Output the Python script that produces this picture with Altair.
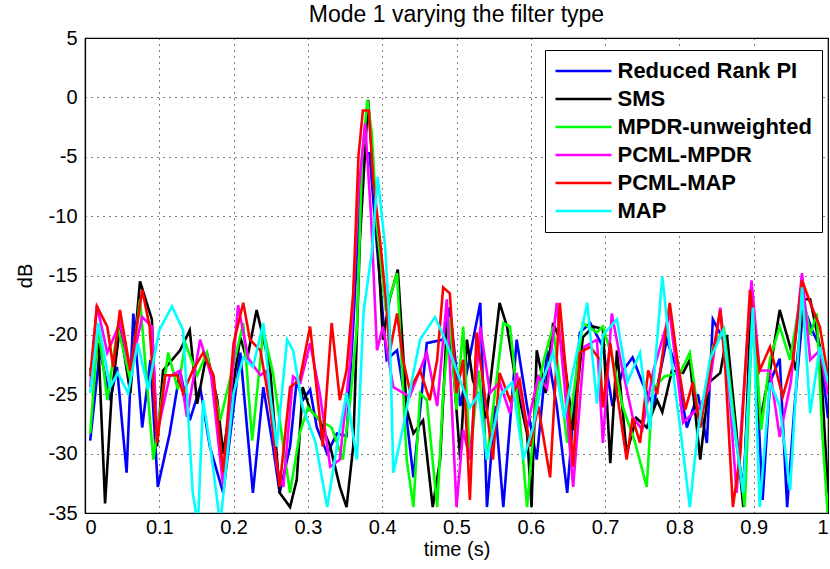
import altair as alt
import pandas as pd

TITLE = "Mode 1 varying the filter type"
SERIES_NAMES = ["Reduced Rank PI", "SMS", "MPDR-unweighted", "PCML-MPDR", "PCML-MAP", "MAP"]
SERIES_COLORS = ["#0000ff", "#000000", "#00ff00", "#ff00ff", "#ff0000", "#00ffff"]
X_TICKS = [0, 0.1, 0.2, 0.3, 0.4, 0.5, 0.6, 0.7, 0.8, 0.9, 1]
Y_TICKS = [5, 0, -5, -10, -15, -20, -25, -30, -35]

REDUCED_RANK_PI = [
    (0.007, -28.9), (0.02, -21.3), (0.034, -25.5), (0.043, -22.7), (0.056, -31.6), (0.065, -18.2),
    (0.077, -27.8), (0.088, -22.1), (0.098, -32.8), (0.114, -28.3), (0.128, -23.0), (0.141, -27.2),
    (0.155, -24.4), (0.168, -29.4), (0.186, -33.3), (0.209, -21.5), (0.226, -33.3), (0.24, -24.4),
    (0.253, -29.4), (0.262, -33.3), (0.276, -29.4), (0.285, -23.8), (0.293, -25.5), (0.303, -24.6),
    (0.312, -27.8), (0.326, -30.0), (0.339, -28.3), (0.352, -28.5), (0.361, -19.3), (0.37, -8.0),
    (0.377, -4.7), (0.383, -4.7), (0.393, -12.6), (0.406, -22.1), (0.42, -21.3), (0.428, -24.4),
    (0.442, -32.0), (0.46, -20.7), (0.482, -20.4), (0.491, -17.7), (0.505, -26.0), (0.532, -17.3),
    (0.541, -34.5), (0.552, -26.0), (0.563, -34.5), (0.581, -20.4), (0.595, -26.0), (0.608, -30.5),
    (0.622, -21.3), (0.635, -26.0), (0.649, -33.3), (0.666, -19.8), (0.68, -19.0), (0.697, -21.0),
    (0.71, -26.0), (0.724, -23.0), (0.737, -21.9), (0.75, -24.0), (0.765, -26.0), (0.783, -20.4),
    (0.797, -23.0), (0.81, -27.8), (0.825, -25.0), (0.837, -29.1), (0.845, -18.7), (0.86, -20.5),
    (0.872, -27.0), (0.886, -33.0), (0.899, -17.5), (0.912, -33.9), (0.922, -24.0), (0.935, -22.0),
    (0.945, -34.5), (0.955, -26.0), (0.967, -17.5), (0.978, -19.5), (0.989, -21.0), (1.0, -27.0),
]

SMS = [
    (0.007, -23.0), (0.018, -20.7), (0.027, -34.2), (0.036, -24.9), (0.047, -19.3), (0.061, -24.9),
    (0.074, -15.5), (0.09, -18.7), (0.097, -29.4), (0.105, -23.0), (0.128, -21.3), (0.141, -19.6),
    (0.151, -25.8), (0.164, -21.5), (0.178, -25.5), (0.186, -30.0), (0.209, -20.2), (0.218, -22.1),
    (0.231, -17.9), (0.249, -22.7), (0.262, -33.3), (0.276, -34.5), (0.285, -32.2), (0.293, -24.4),
    (0.303, -26.3), (0.316, -27.2), (0.33, -29.4), (0.343, -32.8), (0.352, -34.5), (0.361, -29.4),
    (0.37, -12.0), (0.381, -0.2), (0.392, -10.0), (0.401, -20.4), (0.41, -17.0), (0.421, -14.5),
    (0.433, -26.3), (0.442, -28.3), (0.455, -27.2), (0.468, -34.5), (0.478, -30.5), (0.487, -19.3),
    (0.495, -22.1), (0.505, -30.5), (0.514, -20.4), (0.522, -23.8), (0.54, -27.0), (0.558, -17.3),
    (0.568, -19.3), (0.58, -24.0), (0.595, -28.3), (0.601, -34.5), (0.608, -21.3), (0.62, -24.9),
    (0.63, -19.0), (0.643, -21.0), (0.657, -28.0), (0.67, -20.2), (0.684, -19.3), (0.697, -19.5),
    (0.707, -30.8), (0.716, -21.3), (0.729, -30.0), (0.742, -27.0), (0.756, -27.8), (0.77, -25.5),
    (0.777, -26.5), (0.79, -23.0), (0.805, -23.2), (0.814, -22.1), (0.828, -30.5), (0.84, -24.0),
    (0.855, -23.2), (0.864, -20.0), (0.875, -27.0), (0.886, -34.5), (0.897, -16.0), (0.908, -27.4),
    (0.922, -23.0), (0.935, -17.9), (0.949, -21.0), (0.957, -23.0), (0.967, -17.0), (0.976, -17.0),
    (0.989, -21.0), (1.0, -33.3),
]

MPDR_UNWEIGHTED = [
    (0.007, -28.3), (0.018, -19.3), (0.03, -25.5), (0.044, -19.3), (0.061, -23.8), (0.074, -17.0),
    (0.092, -30.5), (0.112, -21.5), (0.125, -24.6), (0.135, -20.7), (0.151, -23.4), (0.164, -21.5),
    (0.182, -27.2), (0.198, -23.0), (0.213, -19.0), (0.225, -28.9), (0.24, -19.6), (0.253, -23.2),
    (0.267, -29.4), (0.276, -33.3), (0.289, -28.3), (0.3, -26.1), (0.316, -27.2), (0.332, -27.8),
    (0.347, -30.5), (0.357, -25.5), (0.366, -19.3), (0.373, -5.0), (0.38, -0.2), (0.386, -3.0),
    (0.393, -10.9), (0.405, -18.0), (0.42, -14.8), (0.433, -30.5), (0.442, -34.5), (0.451, -24.9),
    (0.46, -25.5), (0.474, -34.5), (0.482, -25.0), (0.491, -18.7), (0.5, -26.3), (0.509, -19.3),
    (0.518, -30.5), (0.53, -23.0), (0.541, -30.5), (0.563, -19.0), (0.572, -19.3), (0.585, -27.0),
    (0.595, -34.5), (0.608, -24.9), (0.618, -22.0), (0.63, -19.3), (0.649, -29.1), (0.67, -19.0),
    (0.689, -19.8), (0.697, -19.3), (0.71, -22.0), (0.724, -26.1), (0.74, -29.0), (0.756, -32.8),
    (0.764, -24.6), (0.78, -23.5), (0.801, -23.2), (0.814, -21.5), (0.828, -27.8), (0.845, -21.0),
    (0.86, -19.5), (0.875, -28.0), (0.888, -34.5), (0.899, -17.0), (0.91, -28.0), (0.922, -22.0),
    (0.935, -19.3), (0.949, -22.1), (0.965, -16.0), (0.976, -20.0), (0.985, -18.2), (0.992, -28.0),
    (1.0, -35.5),
]

PCML_MPDR = [
    (0.007, -24.4), (0.016, -17.5), (0.03, -21.5), (0.047, -19.0), (0.061, -23.0), (0.077, -18.5),
    (0.09, -19.3), (0.097, -28.3), (0.114, -23.5), (0.128, -23.0), (0.137, -26.9), (0.155, -20.4),
    (0.17, -23.5), (0.186, -32.8), (0.206, -17.5), (0.22, -22.0), (0.236, -23.4), (0.245, -23.0),
    (0.258, -31.1), (0.267, -32.8), (0.28, -23.5), (0.29, -24.0), (0.303, -20.7), (0.316, -24.9),
    (0.33, -31.1), (0.343, -30.5), (0.357, -22.1), (0.368, -8.0), (0.377, -2.2), (0.385, -10.0),
    (0.393, -21.3), (0.401, -19.3), (0.415, -24.4), (0.437, -25.2), (0.46, -21.5), (0.474, -26.0),
    (0.487, -17.0), (0.5, -34.5), (0.509, -28.0), (0.518, -30.5), (0.532, -19.3), (0.545, -24.9),
    (0.558, -24.0), (0.572, -26.6), (0.581, -23.2), (0.595, -27.8), (0.61, -23.5), (0.622, -24.5),
    (0.635, -17.3), (0.645, -24.0), (0.657, -32.8), (0.672, -21.0), (0.689, -20.4), (0.697, -29.1),
    (0.709, -18.2), (0.722, -22.5), (0.737, -26.9), (0.75, -28.0), (0.765, -23.0), (0.787, -18.2),
    (0.805, -27.4), (0.828, -26.0), (0.84, -24.5), (0.855, -17.7), (0.866, -24.0), (0.877, -33.3),
    (0.897, -15.4), (0.908, -23.0), (0.922, -23.0), (0.935, -28.6), (0.95, -24.0), (0.965, -14.8),
    (0.976, -22.1), (0.989, -21.3), (1.0, -25.0),
]

PCML_MAP = [
    (0.007, -23.5), (0.016, -17.6), (0.03, -19.3), (0.038, -22.7), (0.047, -17.9), (0.061, -23.0),
    (0.077, -16.2), (0.087, -19.3), (0.097, -29.1), (0.108, -23.4), (0.124, -23.4), (0.132, -24.9),
    (0.145, -23.0), (0.159, -21.5), (0.173, -23.4), (0.186, -31.6), (0.2, -20.7), (0.213, -17.3),
    (0.222, -20.4), (0.236, -21.3), (0.249, -26.0), (0.262, -32.8), (0.276, -24.4), (0.289, -23.8),
    (0.303, -19.3), (0.32, -29.4), (0.332, -19.0), (0.343, -25.5), (0.352, -23.0), (0.361, -16.5),
    (0.368, -5.0), (0.374, -1.1), (0.382, -1.1), (0.388, -7.0), (0.397, -12.0), (0.405, -17.0),
    (0.41, -21.5), (0.42, -18.2), (0.428, -22.1), (0.437, -24.6), (0.451, -23.0), (0.464, -25.5),
    (0.474, -22.1), (0.482, -16.0), (0.491, -16.5), (0.5, -24.9), (0.509, -22.1), (0.518, -33.9),
    (0.527, -19.8), (0.538, -25.0), (0.549, -30.5), (0.558, -23.2), (0.572, -25.5), (0.585, -23.8),
    (0.599, -29.4), (0.61, -26.0), (0.626, -32.0), (0.639, -17.3), (0.649, -24.4), (0.657, -31.1),
    (0.666, -21.5), (0.68, -21.0), (0.693, -22.1), (0.697, -26.1), (0.707, -20.7), (0.716, -24.9),
    (0.729, -30.5), (0.737, -27.0), (0.747, -29.1), (0.758, -23.0), (0.77, -25.0), (0.787, -17.3),
    (0.797, -22.0), (0.808, -26.3), (0.818, -24.0), (0.828, -27.8), (0.855, -17.9), (0.862, -23.0),
    (0.872, -34.5), (0.882, -30.0), (0.895, -16.2), (0.908, -23.0), (0.922, -21.0), (0.939, -25.2),
    (0.953, -22.1), (0.965, -15.4), (0.976, -17.3), (0.989, -19.3), (1.0, -23.5),
]

MAP = [
    (0.007, -24.9), (0.018, -19.0), (0.034, -24.4), (0.044, -23.2), (0.058, -24.9), (0.071, -20.7),
    (0.085, -24.6), (0.1, -19.6), (0.117, -17.6), (0.132, -19.6), (0.145, -33.3), (0.152, -36.0),
    (0.159, -25.5), (0.17, -30.0), (0.182, -36.0), (0.2, -24.9), (0.213, -21.9), (0.226, -22.7),
    (0.24, -19.0), (0.249, -24.9), (0.258, -29.4), (0.272, -20.4), (0.28, -21.3), (0.293, -26.1),
    (0.31, -29.0), (0.326, -34.5), (0.339, -29.4), (0.352, -24.9), (0.366, -30.5), (0.375, -18.0),
    (0.386, -13.1), (0.394, -6.7), (0.404, -12.6), (0.41, -19.3), (0.415, -31.6), (0.428, -27.8),
    (0.442, -23.2), (0.451, -20.4), (0.471, -18.5), (0.482, -20.0), (0.495, -22.1), (0.518, -26.1),
    (0.53, -25.0), (0.541, -30.5), (0.56, -25.0), (0.575, -24.0), (0.59, -30.5), (0.603, -27.8),
    (0.615, -24.0), (0.63, -21.5), (0.645, -27.0), (0.657, -23.0), (0.676, -17.3), (0.689, -25.8),
    (0.697, -20.0), (0.716, -18.7), (0.73, -24.0), (0.747, -21.5), (0.76, -28.0), (0.777, -15.1),
    (0.787, -21.0), (0.801, -27.8), (0.814, -34.5), (0.825, -28.0), (0.841, -22.1), (0.859, -19.6),
    (0.872, -27.0), (0.886, -33.3), (0.899, -17.7), (0.908, -34.5), (0.922, -24.0), (0.935, -26.0),
    (0.949, -33.1), (0.965, -16.0), (0.976, -26.6), (0.989, -21.0), (1.0, -24.0),
]

SERIES_DATA = [REDUCED_RANK_PI, SMS, MPDR_UNWEIGHTED, PCML_MPDR, PCML_MAP, MAP]

rows = []
for name, pts in zip(SERIES_NAMES, SERIES_DATA):
    for i, (t, v) in enumerate(pts):
        rows.append({"series": name, "t": t, "dB": v, "i": i})
df = pd.DataFrame(rows)

FONT = "Liberation Sans"

axis_common = dict(
    labelFont=FONT, titleFont=FONT, labelFontSize=20, titleFontSize=20,
    labelColor="black", titleColor="black", titleFontWeight="normal",
    labelFontWeight="normal", domainColor="black", domainWidth=1.2, ticks=False,
    gridColor="black", gridDash=[1, 5], gridOpacity=1, gridWidth=1,
)

chart = alt.Chart(df).mark_line(strokeWidth=2.6, clip=True).encode(
    x=alt.X("t:Q",
            scale=alt.Scale(domain=[0, 1], nice=False, zero=False),
            axis=alt.Axis(values=X_TICKS, title="time (s)", format="~g",
                          labelPadding=4, titlePadding=2, **axis_common)),
    y=alt.Y("dB:Q",
            scale=alt.Scale(domain=[-35, 5], nice=False, zero=False),
            axis=alt.Axis(values=Y_TICKS, title="dB",
                          labelExpr="datum.value < 0 ? '-' + abs(datum.value) : '' + datum.value",
                          labelPadding=8, titlePadding=13, **axis_common)),
    color=alt.Color("series:N",
                    scale=alt.Scale(domain=SERIES_NAMES, range=SERIES_COLORS),
                    sort=SERIES_NAMES,
                    legend=alt.Legend(title=None, orient="none", legendX=460, legendY=12,
                                      symbolType="M-4,0H4", symbolSize=196,
                                      symbolStrokeWidth=2.5, symbolOffset=17.5,
                                      labelFontSize=22, labelFontWeight="bold",
                                      labelFont=FONT, labelColor="black", labelLimit=400,
                                      labelOffset=23, rowPadding=6,
                                      strokeColor="black", fillColor="white",
                                      padding=10)),
    order=alt.Order("i:Q"),
).properties(
    width=743,
    height=475,
    background="white",
    title=alt.TitleParams(TITLE, font=FONT, fontSize=23, fontWeight="normal",
                          color="black", anchor="middle", offset=1),
    autosize=alt.AutoSizeParams(type="none"),
    padding={"left": 85, "top": 38, "right": 2, "bottom": 56},
).configure_view(
    stroke="black", strokeWidth=1.2
)

chart.save("out.html", embed_options={"renderer": "svg", "actions": False})
